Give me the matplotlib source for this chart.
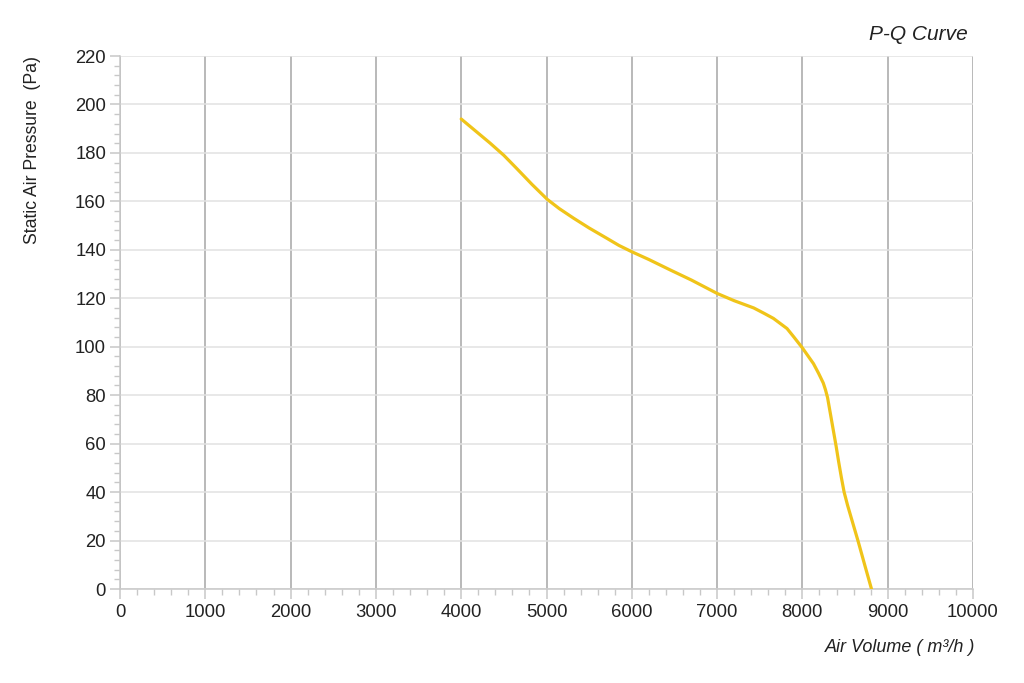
import matplotlib
matplotlib.use("Agg")
import matplotlib.pyplot as plt
from matplotlib.ticker import MultipleLocator

air_volume = [4000, 4170, 4340, 4500, 4650, 4830, 5010, 5150, 5320, 5500, 5710, 5850,
              6000, 6200, 6450, 6700, 7000, 7200, 7430, 7550, 7660, 7820, 7900, 8000,
              8060, 8130, 8190, 8245, 8270, 8295, 8330, 8365, 8395, 8425, 8457, 8489,
              8530, 8580, 8655, 8730, 8810]
static_pressure = [194, 189, 184, 179, 173.6, 167, 160.8, 157, 153, 149, 144.7, 141.8,
                   139.2, 136, 131.7, 127.5, 122, 119, 116, 113.8, 111.7, 107.5, 104, 99.5,
                   96.5, 93, 89, 85, 82.3, 79, 72, 65, 59, 52.5, 46, 40,
                   34.5, 28.5, 19.5, 10, 0]
x_ticks = [0, 1000, 2000, 3000, 4000, 5000, 6000, 7000, 8000, 9000, 10000]
y_ticks = [0, 20, 40, 60, 80, 100, 120, 140, 160, 180, 200, 220]

plt.rcParams['font.family'] = ['Liberation Sans', 'DejaVu Sans']

fig = plt.figure(figsize=(10.24, 6.83), dpi=100)
ax = fig.add_axes([120/1024, 1-589/683, (973-120)/1024, (589-56)/683])

ax.set_xlim(0, 10000)
ax.set_ylim(0, 220)
ax.set_xticks(x_ticks)
ax.set_yticks(y_ticks)
ax.xaxis.set_minor_locator(MultipleLocator(200))
ax.yaxis.set_minor_locator(MultipleLocator(4))

ax.grid(True, axis='x', which='major', color='#a6a6a6', linewidth=1.1)
ax.grid(True, axis='y', which='major', color='#e2e2e2', linewidth=1.1)
ax.set_axisbelow(True)

for s in ['top', 'right']:
    ax.spines[s].set_visible(False)
for s in ['left', 'bottom']:
    ax.spines[s].set_color('#c8c8c8')
    ax.spines[s].set_linewidth(1.1)

ax.tick_params(axis='both', which='major', length=7, color='#c8c8c8', width=1.1,
               labelsize=13.3, labelcolor='#222222')
ax.tick_params(axis='both', which='minor', length=4, color='#c8c8c8', width=1.0)
ax.tick_params(axis='x', pad=4)
ax.tick_params(axis='y', pad=3)

ax.plot(air_volume, static_pressure, color='#f0c419', linewidth=2.3,
        solid_capstyle='round', solid_joinstyle='round', zorder=3)

fig.text(968/1024, 1-34/683, 'P-Q Curve', ha='right', va='center', fontsize=15,
         style='italic', color='#222222')
fig.text(975/1024, 1-647/683, 'Air Volume ( m³/h )', ha='right', va='center', fontsize=13,
         style='italic', color='#222222')
fig.text(33/1024, 1-150/683, 'Static Air Pressure  (Pa)', ha='center', va='center',
         fontsize=12.7, rotation=90, color='#222222')

fig.savefig('out.png', dpi=100, facecolor='white')
